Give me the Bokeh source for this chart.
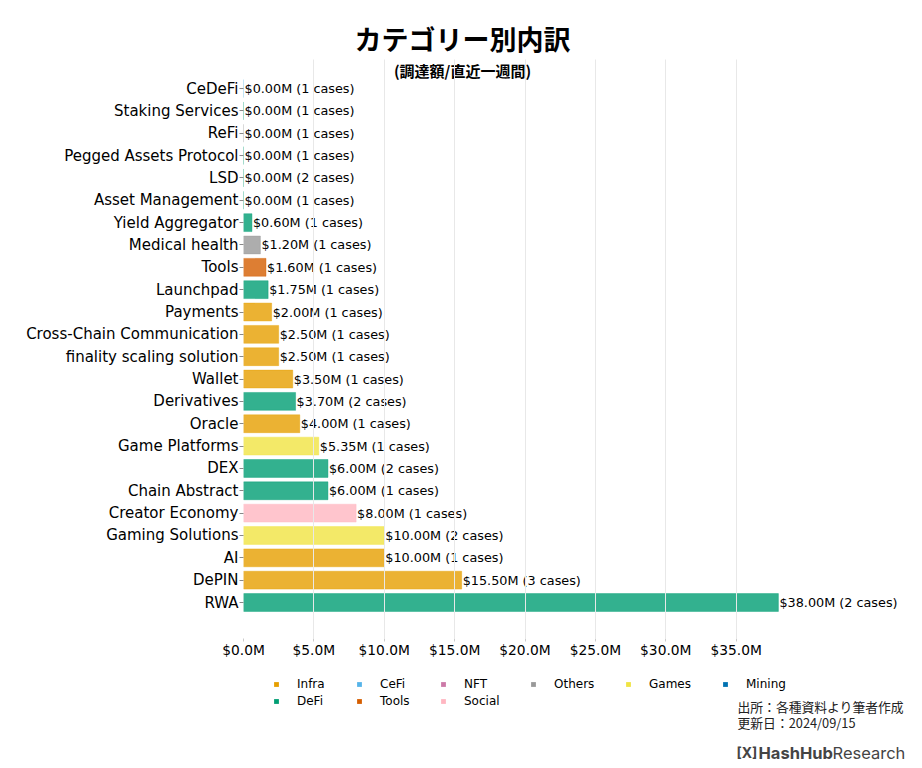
from bokeh.plotting import figure
from bokeh.layouts import column
from bokeh.models import Range1d, FixedTicker, Label, Legend, LegendItem, ColumnDataSource, PrintfTickFormatter
from bokeh.core.properties import value
from bokeh.embed import file_html
from bokeh.resources import INLINE

# ---- data (top to bottom as shown) ----
categories = ["CeDeFi", "Staking Services", "ReFi", "Pegged Assets Protocol", "LSD",
              "Asset Management", "Yield Aggregator", "Medical health", "Tools", "Launchpad",
              "Payments", "Cross-Chain Communication", "finality scaling solution", "Wallet",
              "Derivatives", "Oracle", "Game Platforms", "DEX", "Chain Abstract",
              "Creator Economy", "Gaming Solutions", "AI", "DePIN", "RWA"]
amounts = [0.00, 0.00, 0.00, 0.00, 0.00, 0.00, 0.60, 1.20, 1.60, 1.75,
           2.00, 2.50, 2.50, 3.50, 3.70, 4.00, 5.35, 6.00, 6.00,
           8.00, 10.00, 10.00, 15.50, 38.00]
cases = [1, 1, 1, 1, 2, 1, 1, 1, 1, 1,
         1, 1, 1, 1, 2, 1, 1, 2, 1,
         1, 2, 1, 3, 2]
groups = ["CeFi", "DeFi", "Others", "DeFi", "DeFi", "DeFi", "DeFi", "Others", "Tools", "DeFi",
          "Infra", "Infra", "Infra", "Infra", "DeFi", "Infra", "Games", "DeFi", "DeFi",
          "Social", "Games", "Infra", "Infra", "DeFi"]

group_names = ["Infra", "DeFi", "CeFi", "Tools", "NFT", "Social", "Others", "Games", "Mining"]
group_colors = ["#E69F00", "#009E73", "#56B4E9", "#D55E00", "#CC79A7", "#FFB6C1",
                "#999999", "#F0E442", "#0072B2"]
x_ticks = [0, 5, 10, 15, 20, 25, 30, 35]

title_text = "カテゴリー別内訳"
subtitle_text = "(調達額/直近一週間)"
source_text = "出所：各種資料より筆者作成"
updated_text = "更新日：2024/09/15"

color_of = dict(zip(group_names, group_colors))
n = len(categories)
ypos = [n - 1 - i for i in range(n)]
labels = ["$%.2fM (%d cases)" % (a, c) for a, c in zip(amounts, cases)]

W = 914
BL, BR = 243, 8
HEAD = 59
FOOT = 104

# ---------------- header (title) ----------------
h = figure(width=W, height=HEAD, output_backend="svg", toolbar_location=None,
           x_range=Range1d(243, 906), y_range=Range1d(HEAD, 0),
           min_border_left=BL, min_border_right=BR, min_border_top=0, min_border_bottom=0,
           x_axis_location=None, y_axis_location=None)
h.outline_line_color = None
h.xgrid.grid_line_color = None
h.ygrid.grid_line_color = None
h.add_layout(Label(x=462, y=38, text=title_text, text_align="center", text_baseline="middle",
                   text_font="Noto Sans CJK JP", text_font_style="bold", text_font_size="27px",
                   text_color="black"))

# ---------------- main chart ----------------
p = figure(width=W, height=660 - HEAD, output_backend="svg", toolbar_location=None,
           x_range=Range1d(0, 47.1), y_range=Range1d(-1.61, n - 1 + 1.30),
           min_border_left=BL, min_border_right=BR, min_border_top=0, min_border_bottom=22)
p.outline_line_color = None
p.background_fill_color = "white"
p.border_fill_color = "white"

for g in group_names:
    idx = [i for i in range(n) if groups[i] == g]
    if not idx:
        continue
    src = ColumnDataSource(dict(y=[ypos[i] for i in idx], right=[amounts[i] for i in idx]))
    p.hbar(y="y", right="right", left=0, height=0.8, source=src,
           fill_color=color_of[g], fill_alpha=0.8,
           line_color=color_of[g], line_alpha=0.5, line_width=0.8)

lab_src = ColumnDataSource(dict(x=amounts, y=ypos, t=labels))
p.text(x="x", y="y", text="t", source=lab_src, x_offset=1,
       text_baseline="middle", text_align="left", text_font=value("DejaVu Sans"),
       text_font_size="12.8px", text_color="black")

p.xaxis.ticker = FixedTicker(ticks=x_ticks)
p.xaxis.formatter = PrintfTickFormatter(format="$%.1fM")
p.xaxis.axis_line_color = None
p.xaxis.major_tick_in = 0
p.xaxis.major_tick_out = 3
p.xaxis.major_tick_line_color = "#cccccc"
p.xaxis.minor_tick_line_color = None
p.xaxis.major_label_standoff = 0
p.xaxis.major_label_text_font = "DejaVu Sans"
p.xaxis.major_label_text_font_size = "13.8px"
p.xaxis.major_label_text_color = "black"

p.yaxis.ticker = FixedTicker(ticks=ypos)
p.yaxis.major_label_overrides = {ypos[i]: categories[i] for i in range(n)}
p.yaxis.axis_line_color = None
p.yaxis.major_tick_in = 0
p.yaxis.major_tick_out = 4
p.yaxis.major_tick_line_color = "#888888"
p.yaxis.minor_tick_line_color = None
p.yaxis.major_label_standoff = 1
p.yaxis.major_label_text_font = "DejaVu Sans"
p.yaxis.major_label_text_font_size = "15px"
p.yaxis.major_label_text_color = "black"

p.ygrid.grid_line_color = None
p.xgrid.grid_line_color = "#e8e8e8"
p.xgrid.grid_line_width = 1
p.xgrid.level = "overlay"

p.add_layout(Label(x=219, y=568, x_units="screen", y_units="screen", text=subtitle_text,
                   text_align="center", text_baseline="middle",
                   text_font="Noto Sans CJK JP", text_font_style="bold", text_font_size="15px",
                   text_color="black"))

# ---------------- footer (legend + notes) ----------------
f = figure(width=W, height=FOOT, output_backend="svg", toolbar_location=None,
           x_range=Range1d(243, 906), y_range=Range1d(660 + FOOT, 660),
           min_border_left=BL, min_border_right=BR, min_border_top=0, min_border_bottom=0,
           x_axis_location=None, y_axis_location=None)
f.outline_line_color = None
f.xgrid.grid_line_color = None
f.ygrid.grid_line_color = None

nan = float("nan")
swatch = {}
for g in group_names:
    swatch[g] = f.quad(left=[nan], right=[nan], top=[nan], bottom=[nan],
                       fill_color=color_of[g], fill_alpha=1.0, line_color=None)

# legend columns (matplotlib-style, 6 columns, filled column-wise)
legend_columns = [["Infra", "DeFi"], ["CeFi", "Tools"], ["NFT", "Social"],
                  ["Others"], ["Games"], ["Mining"]]
col_x = [30, 113, 197, 287, 382, 479]
for names, cx in zip(legend_columns, col_x):
    items = [LegendItem(label=nm, renderers=[swatch[nm]]) for nm in names]
    hgt = 14 * len(names) + 3 * (len(names) - 1)
    lg = Legend(items=items, orientation="vertical", location=(cx, FOOT - 17 - hgt),
                glyph_width=6, glyph_height=6, label_height=14, label_width=10,
                label_standoff=18, spacing=3, padding=0, margin=0,
                label_text_font="DejaVu Sans", label_text_font_size="12px",
                label_text_color="black",
                border_line_color=None, background_fill_alpha=0)
    f.add_layout(lg, "center")

f.add_layout(Label(x=737, y=706, text=source_text, text_align="left", text_baseline="middle",
                   text_font="Noto Sans CJK JP", text_font_size="12.8px", text_color="#222222"))
f.add_layout(Label(x=737, y=722, text=updated_text, text_align="left", text_baseline="middle",
                   text_font="Noto Sans CJK JP", text_font_size="12.8px", text_color="#222222"))
f.add_layout(Label(x=736, y=752, text="[X]", text_align="left", text_baseline="middle",
                   text_font="Inter", text_font_style="bold", text_font_size="14px"))
f.add_layout(Label(x=758, y=752, text="HashHub", text_align="left", text_baseline="middle",
                   text_font="Inter", text_font_style="bold", text_font_size="16.5px"))
f.add_layout(Label(x=832, y=752, text="Research", text_align="left", text_baseline="middle",
                   text_font="Inter", text_font_size="16.5px"))

layout = column(h, p, f, spacing=0)
open("out.html", "w").write(file_html(layout, INLINE))
